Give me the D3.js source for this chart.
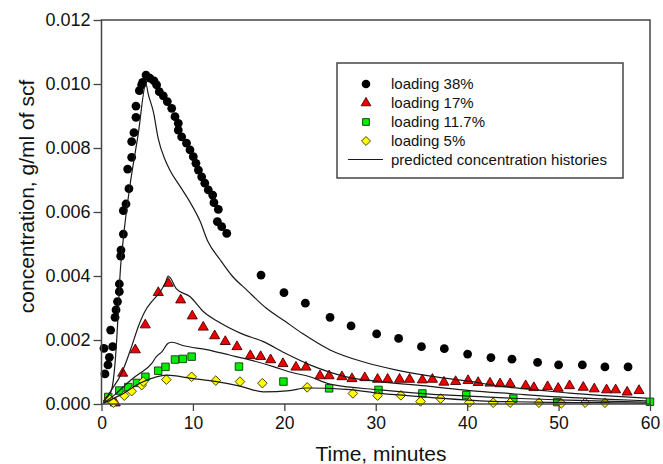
<!DOCTYPE html>
<html><head><meta charset="utf-8">
<script src="https://cdn.jsdelivr.net/npm/d3@7/dist/d3.min.js"></script>
<style>body{margin:0;background:#fff}svg{display:block}</style>
</head><body>
<svg id="chart" width="663" height="464"></svg>
<script>
// ---- data ----
const xTickValues = [0, 10, 20, 30, 40, 50, 60];
const yTickValues = [0, 0.002, 0.004, 0.006, 0.008, 0.010, 0.012];
const legendLabels = ["loading 38%", "loading 17%", "loading 11.7%", "loading 5%", "predicted concentration histories"];

const load38 = [[0.38,0.00094],[0.71,0.00122],[0.86,0.00146],[0.27,0.00174],[1.22,0.00179],[1.0,0.00231],[1.48,0.00271],[1.59,0.00294],[1.75,0.0032],[1.95,0.00351],[1.95,0.00375],[2.1,0.00462],[2.13,0.00481],[2.39,0.00531],[2.39,0.00604],[2.68,0.00625],[2.86,0.00734],[3.0,0.00673],[3.3,0.00771],[3.3,0.0082],[3.55,0.00848],[3.77,0.00896],[3.77,0.00931],[4.14,0.00979],[4.39,0.00997],[4.5,0.01005],[4.87,0.01028],[5.3,0.01018],[5.74,0.0101],[6.03,0.00997],[6.32,0.00976],[6.76,0.00963],[7.2,0.00945],[7.68,0.00924],[8.04,0.00898],[8.4,0.00877],[8.4,0.00856],[8.77,0.00835],[9.3,0.00815],[9.68,0.00794],[10.04,0.00773],[10.33,0.00752],[10.6,0.00731],[10.96,0.0071],[11.3,0.0069],[11.68,0.00669],[12.16,0.00653],[12.3,0.00629],[12.78,0.00608],[12.67,0.0057],[13.15,0.00554],[13.7,0.00533],[17.45,0.00403],[19.96,0.00348],[22.3,0.00315],[25.0,0.00271],[27.3,0.00244],[30.1,0.00219],[32.5,0.00205],[35.0,0.00179],[37.5,0.00173],[40.05,0.00156],[42.6,0.00145],[44.9,0.0014],[47.7,0.0013],[50.0,0.00122],[52.6,0.00122],[55.07,0.00116],[57.6,0.00116]];

const load17 = [[1.5,0.00003],[2.32,0.00096],[3.7,0.00169],[4.79,0.00247],[6.21,0.00348],[7.31,0.00377],[8.66,0.00325],[9.93,0.00275],[11.13,0.0024],[12.38,0.00213],[13.54,0.00195],[14.82,0.00179],[16.28,0.00151],[17.41,0.00148],[18.5,0.00138],[19.85,0.00126],[21.27,0.00115],[22.37,0.00115],[23.9,0.00088],[24.9,0.00088],[26.3,0.00085],[27.4,0.00079],[28.8,0.00082],[30.2,0.00077],[31.3,0.00077],[32.6,0.00077],[33.7,0.00077],[35.1,0.00075],[36.2,0.00077],[37.46,0.00068],[38.74,0.0007],[40.1,0.00073],[41.2,0.00067],[42.5,0.00065],[43.6,0.00063],[44.7,0.00063],[46.4,0.00057],[47.3,0.00051],[48.8,0.00054],[49.96,0.00049],[51.2,0.00057],[52.7,0.00052],[53.9,0.00047],[55.25,0.00044],[56.24,0.00044],[57.5,0.00037],[58.8,0.00042]];

const load117 = [[0.74,0.00022],[1.95,0.00042],[2.93,0.00053],[3.88,0.00066],[4.8,0.00085],[6.2,0.00104],[7.0,0.00116],[8.04,0.00139],[8.9,0.00141],[9.86,0.00148],[15.04,0.00117],[19.9,0.0007],[24.9,0.00049],[30.3,0.00044],[35.1,0.00033],[39.9,0.00028],[45.05,0.00017],[49.85,0.00006],[60.0,0.00007]];

const load5 = [[0.82,0.00016],[1.3,0.00004],[2.49,0.00026],[3.3,0.0004],[4.4,0.00059],[4.57,0.0007],[7.1,0.00076],[9.86,0.00085],[12.5,0.00073],[15.15,0.0007],[17.6,0.00065],[22.5,0.00052],[27.5,0.00033],[30.2,0.00026],[32.75,0.00027],[34.9,0.00008],[37.1,0.00017],[40.25,0.00005],[42.85,0.00004],[44.7,0.00004],[47.85,0.00004],[50.3,0.00002],[52.9,0.00004],[55.07,0.00004]];

const pred38 = [[0.2,0.0001],[0.6,0.0002],[1.1,0.00044],[1.48,0.00127],[1.66,0.002],[1.84,0.0029],[2.0,0.0039],[2.4,0.0052],[3.1,0.0068],[4.0,0.0084],[4.87,0.0100],[5.1,0.0097],[5.7,0.0091],[6.2,0.0083],[7.0,0.0076],[7.5,0.0073],[8.6,0.0068],[9.7,0.0063],[10.8,0.0057],[11.6,0.0051],[13.0,0.0045],[14.3,0.0040],[15.9,0.00356],[18.0,0.0030],[20.0,0.0026],[22.0,0.0022],[25.0,0.00169],[28.6,0.00132],[32.3,0.00106],[36.0,0.00087],[40.0,0.00072],[44.0,0.00054],[47.6,0.00044],[51.2,0.00034],[55.0,0.00026],[59.6,0.00018]];

const pred17 = [[0.2,0.00005],[1.0,0.0004],[2.2,0.00096],[3.3,0.0018],[4.0,0.0024],[4.76,0.0029],[5.5,0.0032],[6.4,0.0035],[7.0,0.0038],[7.3,0.0040],[8.2,0.0036],[9.7,0.00335],[11.1,0.0029],[12.6,0.0026],[15.3,0.0022],[17.7,0.00195],[20.0,0.0016],[23.0,0.0012],[26.8,0.00085],[30.5,0.0007],[35.9,0.00055],[40.3,0.00042],[45.0,0.00032],[50.0,0.00022],[55.0,0.00015],[59.6,0.0001]];

const pred117 = [[0.2,0.00003],[1.5,0.0003],[2.4,0.00054],[3.66,0.00085],[4.2,0.00096],[5.5,0.00127],[6.0,0.00148],[6.6,0.00163],[7.3,0.0019],[7.7,0.00193],[9.0,0.00182],[11.5,0.0017],[14.0,0.00153],[16.2,0.00138],[18.8,0.00117],[20.6,0.001],[22.8,0.00085],[25.0,0.00062],[30.5,0.00044],[35.9,0.00031],[41.4,0.00023],[45.0,0.00018],[50.0,0.00013],[55.0,0.00009],[59.6,0.00006]];

const pred5 = [[0.2,0.00002],[1.5,0.0002],[2.4,0.00033],[4.2,0.00065],[6.0,0.00085],[7.1,0.0009],[9.86,0.0008],[12.6,0.0007],[15.15,0.00056],[17.7,0.00038],[20.6,0.00042],[22.4,0.0005],[26.8,0.00046],[30.5,0.00033],[35.9,0.00021],[41.4,0.0001],[45.0,0.00007],[50.0,0.00005],[55.0,0.00004],[59.6,0.00003]];

// ---- layout ----
const FONT = "'Liberation Sans', Arial, Helvetica, sans-serif";
const svg = d3.select("#chart");
const L = 101.5, R = 650, T = 20, B = 404;
const x = d3.scaleLinear().domain([0, 60]).range([L, R]);
const y = d3.scaleLinear().domain([0, 0.012]).range([B, T]);

svg.append("rect").attr("width", 663).attr("height", 464).attr("fill", "#fff");

const line = d3.line().x(d => x(d[0])).y(d => y(d[1])).curve(d3.curveMonotoneX);
const sym = (type, size) => d3.symbol().type(type).size(size)();

const gm = svg.append("g");
gm.selectAll("circle.s38").data(load38).join("circle")
  .attr("cx", d => x(d[0])).attr("cy", d => y(d[1])).attr("r", 4.4).attr("fill", "#000");
gm.selectAll("path.s17").data(load17).join("path")
  .attr("d", sym(d3.symbolTriangle, 44))
  .attr("transform", d => `translate(${x(d[0])},${y(d[1])})`)
  .attr("fill", "#ee0000").attr("stroke", "#4a0000").attr("stroke-width", 0.9);
gm.selectAll("path.s117").data(load117).join("path")
  .attr("d", sym(d3.symbolSquare, 56))
  .attr("transform", d => `translate(${x(d[0])},${y(d[1])})`)
  .attr("fill", "#00ee00").attr("stroke", "#0d3a0d").attr("stroke-width", 0.9);
gm.selectAll("path.s5").data(load5).join("path")
  .attr("d", sym(d3.symbolSquare, 46))
  .attr("transform", d => `translate(${x(d[0])},${y(d[1])}) rotate(45)`)
  .attr("fill", "#ffff00").attr("stroke", "#3c3c00").attr("stroke-width", 0.9);

const gl = svg.append("g");
[pred38, pred17, pred117, pred5].forEach(p => {
  gl.append("path").datum(p).attr("d", line)
    .attr("fill", "none").attr("stroke", "#1a1a1a").attr("stroke-width", 1.2);
});

// frame
svg.append("rect").attr("x", L).attr("y", T).attr("width", R - L).attr("height", B - T)
  .attr("fill", "none").attr("stroke", "#444").attr("stroke-width", 1.5);

// axes
const yAxis = d3.axisLeft(y).tickValues(yTickValues).tickFormat(d3.format(".3f")).tickSize(8).tickPadding(3);
const gy = svg.append("g").attr("transform", `translate(${L},0)`).call(yAxis);
const xAxis = d3.axisBottom(x).tickValues(xTickValues).tickFormat(d3.format("d")).tickSize(7).tickPadding(6);
const gx = svg.append("g").attr("transform", `translate(0,${B})`).call(xAxis);
[gx, gy].forEach(g => {
  g.select(".domain").remove();
  g.selectAll(".tick line").attr("stroke", "#444").attr("stroke-width", 1.3);
  g.selectAll(".tick text").attr("fill", "#111").attr("font-family", FONT);
});
gy.selectAll(".tick text").attr("font-size", 18);
gx.selectAll(".tick text").attr("font-size", 17.5);

// axis titles
svg.append("text").attr("x", 381).attr("y", 461).attr("text-anchor", "middle")
  .attr("font-family", FONT).attr("font-size", 21).attr("fill", "#111").text("Time, minutes");
svg.append("text").attr("transform", "translate(33.5,196.5) rotate(-90)").attr("text-anchor", "middle")
  .attr("font-family", FONT).attr("font-size", 21).attr("fill", "#111").text("concentration, g/ml of scf");

// legend
const lg = svg.append("g");
lg.append("rect").attr("x", 337).attr("y", 63).attr("width", 286).attr("height", 115)
  .attr("fill", "#fff").attr("stroke", "#444").attr("stroke-width", 1.5);
const rowsY = [84, 103, 122, 141, 159.5];
const mx = 366;
lg.append("circle").attr("cx", mx).attr("cy", rowsY[0]).attr("r", 4.3).attr("fill", "#000");
lg.append("path").attr("d", sym(d3.symbolTriangle, 40)).attr("transform", `translate(${mx},${rowsY[1]})`)
  .attr("fill", "#ee0000").attr("stroke", "#4a0000").attr("stroke-width", 0.9);
lg.append("path").attr("d", sym(d3.symbolSquare, 46)).attr("transform", `translate(${mx},${rowsY[2]})`)
  .attr("fill", "#00ee00").attr("stroke", "#0d3a0d").attr("stroke-width", 0.9);
lg.append("path").attr("d", sym(d3.symbolSquare, 40)).attr("transform", `translate(${mx},${rowsY[3]}) rotate(45)`)
  .attr("fill", "#ffff00").attr("stroke", "#3c3c00").attr("stroke-width", 0.9);
lg.append("line").attr("x1", 348).attr("x2", 383).attr("y1", rowsY[4]).attr("y2", rowsY[4])
  .attr("stroke", "#1a1a1a").attr("stroke-width", 1.2);
legendLabels.forEach((t, i) => {
  lg.append("text").attr("x", 391).attr("y", rowsY[i]).attr("dy", "0.35em")
    .attr("font-family", FONT).attr("font-size", 15).attr("fill", "#111").text(t);
});
</script>
</body></html>
